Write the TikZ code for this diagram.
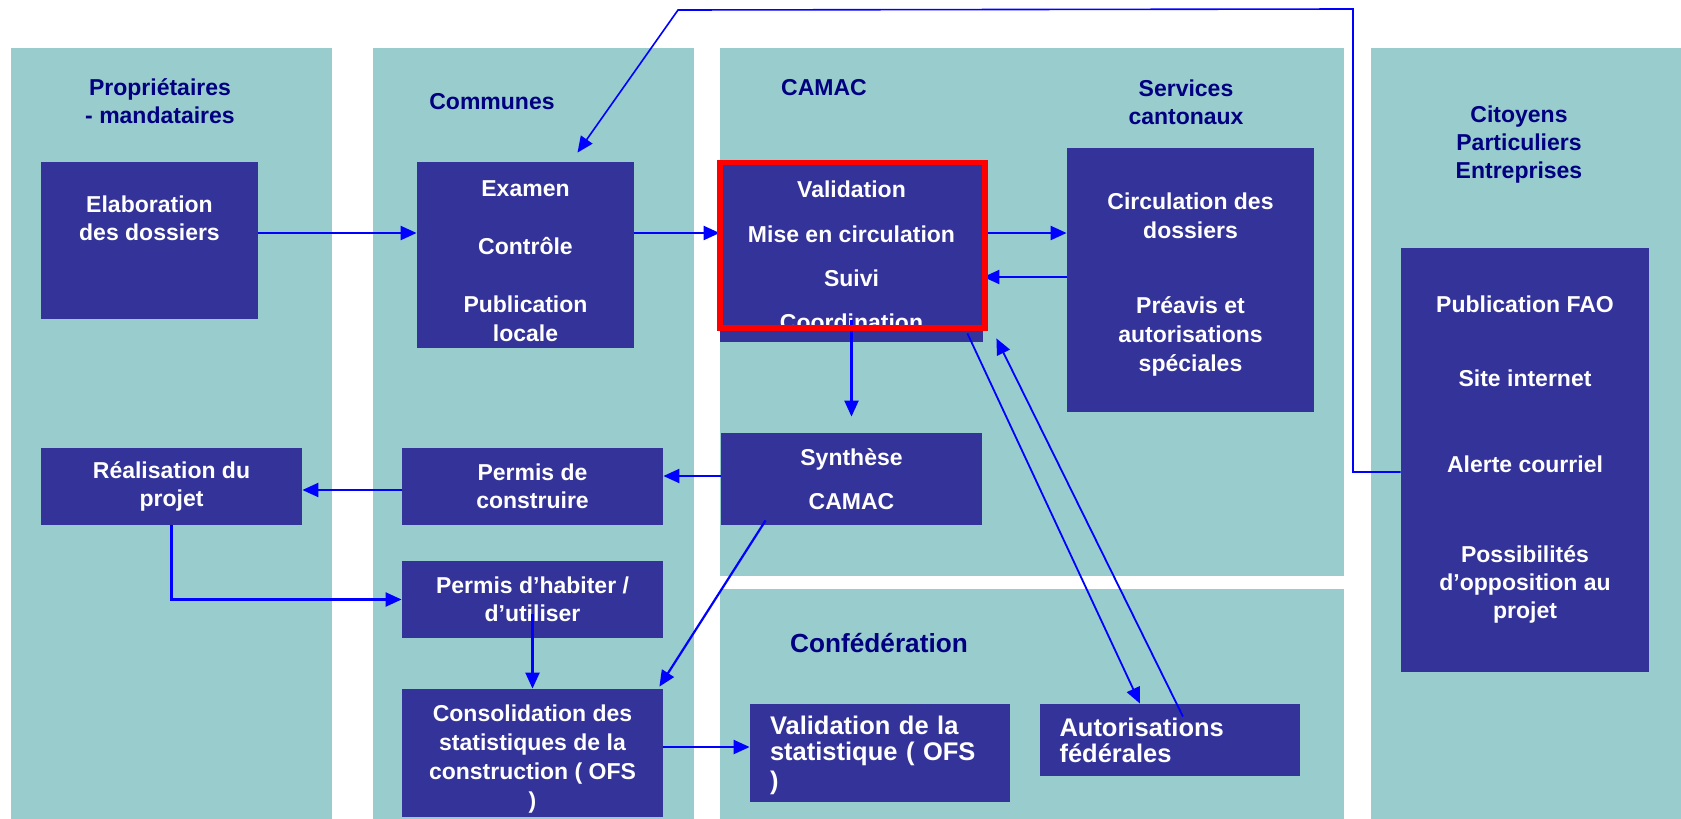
\documentclass[tikz,border=0pt]{standalone}
\usepackage{fontspec}
\setmainfont{Liberation Sans}
\usetikzlibrary{arrows.meta}

\definecolor{camacteal}{RGB}{153,204,204}
\definecolor{camacblue}{RGB}{51,51,153}
\definecolor{camacnavy}{RGB}{0,0,128}
\definecolor{linkblue}{RGB}{0,0,255}

\tikzset{
  box/.style={fill=camacblue, text=white, font=\bfseries\fontsize{11.5}{14}\selectfont, align=center, inner sep=0pt},
  boxwide/.style={box, font=\bfseries\fontsize{11.5}{14.5}\selectfont},
  boxleft/.style={fill=camacblue, text=white, font=\bfseries\fontsize{12.75}{13}\selectfont, align=left, text width=110pt, inner xsep=10pt, inner ysep=0pt},
  title/.style={text=camacnavy, font=\bfseries\fontsize{11.5}{14}\selectfont, align=center},
  arr/.style={draw=linkblue, line width=1.1pt, -{Triangle[length=8pt,width=7pt]}},
  hilite/.style={draw=red, line width=2.75pt}
}
\newcommand{\topgap}[1]{\rule{0pt}{#1}}

\begin{document}
\begin{tikzpicture}[x=0.5pt, y=-0.5pt]
\fill[white] (0,0) rectangle (1681,819);
\useasboundingbox (0,0) rectangle (1681,819);

% columns
\fill[camacteal] (11,48) rectangle (332,819);
\fill[camacteal] (373,48) rectangle (694,819);
\fill[camacteal] (720,48) rectangle (1344,576);
\fill[camacteal] (720,589) rectangle (1344,819);
\fill[camacteal] (1371,48) rectangle (1681,819);

% titles
\node[title] (tprop) at (160,101) {Propriétaires\\- mandataires};
\node[title] (tcom) at (492,102) {Communes};
\node[title] (tcamac) at (824,88) {CAMAC};
\node[title] (tserv) at (1186,102) {Services\\cantonaux};
\node[title, font=\bfseries\fontsize{13.1}{15}\selectfont] (tconf) at (879,643) {Confédération};
\node[title] (tcit) at (1519,145) {Citoyens\\Particuliers\\Entreprises};

% boxes
\node[box, minimum width=108.5pt, minimum height=78.5pt] (elab) at (149.5,240.5) {\topgap{13.8pt}Elaboration\\des dossiers\\~\\~};
\node[boxwide, minimum width=108.5pt, minimum height=93pt] (exam) at (525.5,255) {\topgap{14.5pt}Examen\\~\\Contrôle\\~\\Publication\\locale};
\node[box, minimum width=131.5pt, minimum height=90pt] (valid) at (851.5,252) {\topgap{12.4pt}Validation\\[8.2pt]Mise en circulation\\[8.2pt]Suivi\\[8.2pt]Coordination};
\node[boxwide, minimum width=123.5pt, minimum height=132pt] (serv) at (1190.5,280) {\topgap{12.9pt}Circulation des\\dossiers\\[23pt]Préavis et\\autorisations\\spéciales};
\node[box, minimum width=130.5pt, minimum height=46pt] (synth) at (851.5,479) {Synthèse\\[8pt]CAMAC};
\node[box, minimum width=130.5pt, minimum height=38.5pt] (pdc) at (532.5,486.5) {Permis de\\construire};
\node[box, minimum width=130.5pt, minimum height=38.5pt] (real) at (171.5,486.5) {Réalisation du\\projet};
\node[box, minimum width=130.5pt, minimum height=38.5pt] (hab) at (532.5,599.5) {Permis d’habiter /\\d’utiliser};
\node[boxwide, minimum width=130.5pt, minimum height=64pt] (conso) at (532.5,753) {\topgap{14.2pt}Consolidation des\\statistiques de la\\construction ( OFS\\)};
\node[boxleft, minimum height=49pt] (vstat) at (880,753) {\topgap{11.3pt}Validation de la\\statistique ( OFS\\[1.5pt])};
\node[boxleft, minimum height=36pt] (autf) at (1169.5,740) {Autorisations\\fédérales};
\node[box, minimum width=124pt, minimum height=212pt] (cit) at (1525,460) {Publication FAO\\[23pt]Site internet\\[29pt]Alerte courriel\\[31pt]Possibilités\\d’opposition au\\projet};

% rows for the horizontal links
\coordinate (rowa) at (0,233);
\coordinate (rowb) at (0,277);
\coordinate (rowc) at (0,476);
\coordinate (rowd) at (0,490);
\coordinate (rowe) at (0,747);
\coordinate (rowf) at (0,472);
\coordinate (ctop) at (1353,9);
\coordinate (ltop) at (678,10);

% links
\draw[arr] (elab.east |- rowa) -- (exam.west |- rowa);
\draw[arr] (exam.east |- rowa) -- (valid.west |- rowa);
\draw[arr] (valid.east |- rowa) -- (serv.west |- rowa);
\draw[arr] (serv.west |- rowb) -- (valid.east |- rowb);
\draw[arr, shorten <=-11pt, shorten >=8pt] (valid.south) -- (synth.north);
\draw[arr] (synth.west |- rowc) -- (pdc.east |- rowc);
\draw[arr] (pdc.west |- rowd) -- (real.east |- rowd);
\draw[arr] (real.south) |- (hab.west);
\draw[arr, shorten <=-12pt] (hab.south) -- (conso.north);
\draw[arr] ([xshift=22.5pt,yshift=2.5pt]synth.south west) -- ([xshift=-2pt,yshift=1pt]conso.north east);
\draw[arr] (conso.east |- rowe) -- (vstat.west |- rowe);
\draw[arr, line width=0.9pt] ([xshift=-8pt,yshift=4.5pt]valid.south east) -- ([xshift=-14.75pt]autf.north);
\draw[arr, line width=0.9pt] ([xshift=6.75pt,yshift=-6.5pt]autf.north) -- ([xshift=6.5pt,yshift=2pt]valid.south east);
\draw[arr, line width=0.8pt] (cit.west |- rowf) -| (ctop) -- (ltop) -- ([xshift=26pt,yshift=4.5pt]exam.north);

% highlight
\draw[hilite] ([xshift=0.25pt,yshift=-0.5pt]valid.north west) rectangle ([xshift=0.75pt,yshift=7.25pt]valid.south east);
\end{tikzpicture}
\end{document}
